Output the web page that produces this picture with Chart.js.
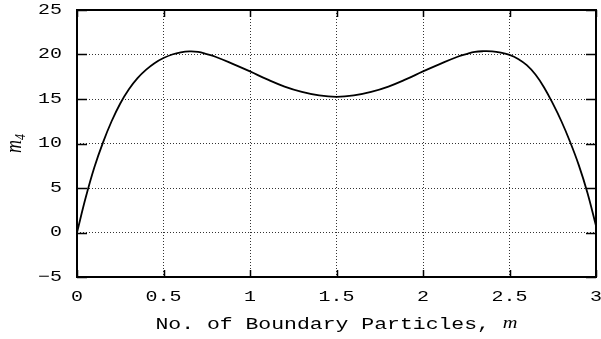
<!DOCTYPE html>
<html>
<head>
<meta charset="utf-8">
<script src="https://cdn.jsdelivr.net/npm/chart.js@4/dist/chart.umd.min.js"></script>
<style>
html,body{margin:0;padding:0;background:#fff;}
#wrap{width:601px;height:339px;position:relative;}
</style>
</head>
<body>
<div id="wrap"><canvas id="c" width="601" height="339"></canvas></div>
<script>
// Data
const xValues = [0,0.05,0.1,0.15,0.2,0.25,0.3,0.35,0.4,0.45,0.5,0.55,0.6,0.65,0.7,0.75,0.8,0.9,1.0,1.1,1.2,1.3,1.4,1.5,1.6,1.7,1.8,1.9,2.0,2.1,2.2,2.25,2.3,2.35,2.4,2.45,2.5,2.55,2.6,2.65,2.7,2.75,2.8,2.85,2.9,2.95,3.0];
const m4Values = [0,3.9,7.3,10.1,12.5,14.5,16.1,17.35,18.3,19.05,19.6,20.0,20.25,20.35,20.3,20.05,19.75,18.95,18.1,17.2,16.4,15.8,15.4,15.25,15.4,15.8,16.4,17.2,18.1,18.95,19.75,20.05,20.3,20.37,20.35,20.2,19.95,19.5,18.8,17.75,16.3,14.5,12.5,10.2,7.6,4.5,0.75];
const xTicks = [0,0.5,1,1.5,2,2.5,3];
const xTickLabels = ['0','0.5','1','1.5','2','2.5','3'];
const yTicks = [-5,0,5,10,15,20,25];
const yTickLabels = ['\u22125','0','5','10','15','20','25'];
const xTitle = 'No. of Boundary Particles, ';
const xTitleVar = 'm';
const yTitleVar = 'm';
const yTitleSub = '4';

const points = xValues.map((x, i) => ({x: x, y: m4Values[i]}));

const MONO = '15px "Liberation Mono", "DejaVu Sans Mono", monospace';
const MONO_T = '16px "Liberation Mono", "DejaVu Sans Mono", monospace';
const SX = 1.33;
const SXT = 1.34;

function drawScaledText(ctx, text, x, y, align, font, sx) {
  ctx.save();
  ctx.font = font;
  const w = ctx.measureText(text).width * sx;
  let left = x;
  if (align === 'center') left = x - w / 2;
  else if (align === 'right') left = x - w;
  ctx.translate(left, y);
  ctx.scale(sx, 1);
  ctx.textAlign = 'left';
  ctx.textBaseline = 'middle';
  ctx.fillText(text, 0, 0);
  ctx.restore();
  return w;
}

const decor = {
  id: 'decor',
  afterDraw(chart) {
    const ctx = chart.ctx;
    const a = chart.chartArea;
    const xs = chart.scales.x, ys = chart.scales.y;
    ctx.save();
    ctx.fillStyle = '#000';
    ctx.strokeStyle = '#000';
    // inner ticks
    ctx.lineWidth = 1.5;
    ctx.beginPath();
    xTicks.forEach(v => {
      const px = Math.round(xs.getPixelForValue(v)) + 0.5;
      ctx.moveTo(px, a.bottom); ctx.lineTo(px, a.bottom - 7);
      ctx.moveTo(px, a.top); ctx.lineTo(px, a.top + 7);
    });
    yTicks.forEach(v => {
      const py = Math.round(ys.getPixelForValue(v)) + 0.5;
      ctx.moveTo(a.left, py); ctx.lineTo(a.left + 10, py);
      ctx.moveTo(a.right, py); ctx.lineTo(a.right - 10, py);
    });
    ctx.stroke();
    // border box
    ctx.lineWidth = 2;
    ctx.strokeRect(a.left, a.top, a.right - a.left, a.bottom - a.top);
    // tick labels
    xTicks.forEach((v, i) => {
      drawScaledText(ctx, xTickLabels[i], xs.getPixelForValue(v), 297, 'center', MONO, SX);
    });
    yTicks.forEach((v, i) => {
      drawScaledText(ctx, yTickLabels[i], 62, ys.getPixelForValue(v), 'right', MONO, SX);
    });
    // x title
    ctx.font = MONO_T;
    const w1 = ctx.measureText(xTitle).width * SXT;
    const vf = 'italic 17px "Liberation Serif", serif';
    ctx.font = vf;
    const w2 = ctx.measureText(xTitleVar).width * 1.2;
    const cx = (a.left + a.right) / 2;
    const start = cx - (w1 + w2) / 2;
    drawScaledText(ctx, xTitle, start, 325, 'left', MONO_T, SXT);
    drawScaledText(ctx, xTitleVar, start + w1, 324, 'left', vf, 1.2);
    // y title (rotated)
    ctx.save();
    ctx.translate(16, (a.top + a.bottom) / 2);
    ctx.scale(1.25, 1);
    ctx.rotate(-Math.PI / 2);
    ctx.font = 'italic 18px "Liberation Serif", serif';
    const mw = ctx.measureText(yTitleVar).width;
    ctx.font = 'italic 12px "Liberation Serif", serif';
    const sw = ctx.measureText(yTitleSub).width;
    const tot = mw + sw;
    ctx.textBaseline = 'alphabetic';
    ctx.textAlign = 'left';
    ctx.font = 'italic 18px "Liberation Serif", serif';
    ctx.fillText(yTitleVar, -tot / 2, 4);
    ctx.font = 'italic 12px "Liberation Serif", serif';
    ctx.fillText(yTitleSub, -tot / 2 + mw, 7);
    ctx.restore();
    ctx.restore();
  }
};

new Chart(document.getElementById('c'), {
  type: 'line',
  data: {
    datasets: [{
      data: points,
      borderColor: '#000',
      borderWidth: 1.8,
      pointRadius: 0,
      fill: false,
      tension: 0.4
    }]
  },
  options: {
    responsive: false,
    animation: false,
    events: [],
    layout: { padding: { left: 77, right: 5, top: 10, bottom: 62 } },
    plugins: { legend: { display: false }, tooltip: { enabled: false }, title: { display: false } },
    scales: {
      x: {
        type: 'linear', min: 0, max: 3,
        afterBuildTicks: s => { s.ticks = xTicks.map(v => ({value: v})); },
        ticks: { display: false },
        grid: { drawTicks: false, color: '#333', lineWidth: 1 },
        border: { display: false, dash: [1, 2] }
      },
      y: {
        type: 'linear', min: -5, max: 25,
        afterBuildTicks: s => { s.ticks = yTicks.map(v => ({value: v})); },
        ticks: { display: false },
        grid: { drawTicks: false, color: '#333', lineWidth: 1 },
        border: { display: false, dash: [1, 2] }
      }
    }
  },
  plugins: [decor]
});
</script>
</body>
</html>
